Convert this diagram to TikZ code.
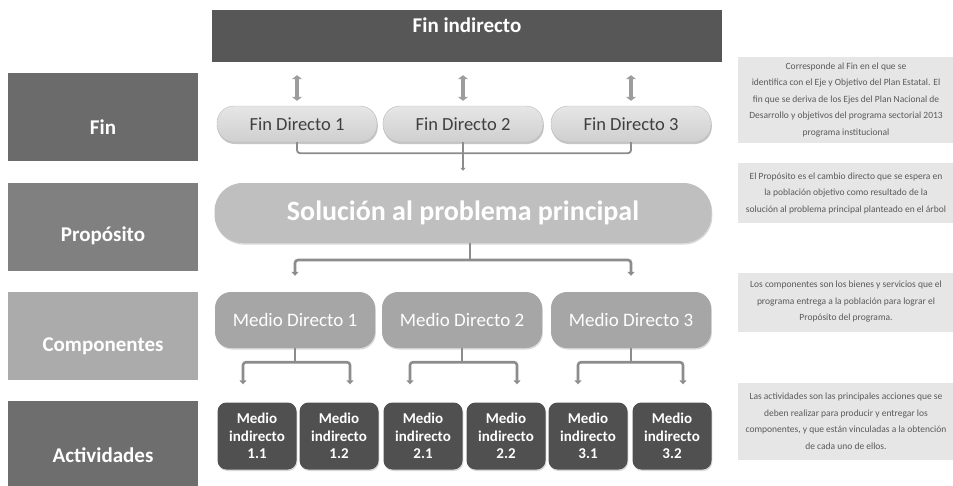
\documentclass[tikz,border=0pt]{standalone}
\usepackage{fontspec}
\setmainfont{Carlito}
\usetikzlibrary{arrows.meta,shadows}

\definecolor{barDark}{HTML}{575757}
\definecolor{lvlFin}{HTML}{6B6B6B}
\definecolor{lvlProp}{HTML}{808080}
\definecolor{lvlComp}{HTML}{ABABAB}
\definecolor{lvlAct}{HTML}{6E6E6E}
\definecolor{finTop}{HTML}{E6E6E6}
\definecolor{finBot}{HTML}{CFCFCF}
\definecolor{finText}{HTML}{3F3F3F}
\definecolor{solFill}{HTML}{BFBFBF}
\definecolor{medFill}{HTML}{A6A6A6}
\definecolor{indFill}{HTML}{505050}
\definecolor{noteFill}{HTML}{E6E6E6}
\definecolor{noteText}{HTML}{5A5A5A}
\definecolor{lineGray}{HTML}{8C8C8C}
\definecolor{arrowGray}{HTML}{9C9C9C}

\begin{document}
\begin{tikzpicture}[x=1pt,y=-1pt,
  lvlfont/.style={text=white,font=\fontsize{21}{23}\selectfont\bfseries},
  lvlbox/.style={rectangle,minimum width=190pt,minimum height=88pt,inner sep=0pt},
  finpill/.style={rectangle,rounded corners=17pt,minimum width=160pt,minimum height=36pt,inner sep=0pt,
    top color=finTop,bottom color=finBot,draw=finBot!90!black,line width=0.4pt,text=finText,
    font=\fontsize{18.5}{20}\selectfont,
    drop shadow={shadow xshift=0.8pt,shadow yshift=-2pt,opacity=0.45}},
  solpill/.style={rectangle,rounded corners=28pt,minimum width=497pt,minimum height=60pt,inner sep=0pt,
    fill=solFill,text=white,font=\fontsize{28}{30}\selectfont\bfseries,
    drop shadow={shadow xshift=0.8pt,shadow yshift=-1.5pt,opacity=0.3}},
  medbox/.style={rectangle,rounded corners=16pt,minimum width=160pt,minimum height=56pt,inner sep=0pt,
    fill=medFill,text=white,font=\fontsize{19}{21}\selectfont,
    drop shadow={shadow xshift=0.8pt,shadow yshift=-1.5pt,opacity=0.3}},
  indbox/.style={rectangle,rounded corners=9pt,minimum width=79pt,minimum height=67pt,inner sep=0pt,
    fill=indFill,text=white,align=center,font=\fontsize{15}{17.5}\selectfont\bfseries,
    drop shadow={shadow xshift=0.8pt,shadow yshift=-1.5pt,opacity=0.3}},
  notebox/.style={rectangle,minimum width=216pt,inner sep=0pt,fill=noteFill,text=noteText,
    align=center,font=\fontsize{9.5}{16.5}\selectfont},
  brk/.style={draw=lineGray,line width=2.6pt,rounded corners=3pt},
  thinbrk/.style={draw=lineGray,line width=1.8pt,rounded corners=3pt},
  tip/.tip={Triangle[width=7pt,length=4pt]},
  uparrow/.style={draw=arrowGray,line width=3.5pt,
    {Triangle[width=10pt,length=4pt]}-{Triangle[width=10pt,length=4pt]}}
]
\clip (0,0) rectangle (953,485);
\useasboundingbox (0,0) rectangle (953,485);

% level labels on the left
\node[lvlbox,fill=lvlFin,label={[lvlfont,yshift=-10pt]center:Fin}] (lfin) at (103,117) {};
\node[lvlbox,fill=lvlProp,label={[lvlfont,yshift=-9pt]center:Propósito}] (lprop) at (103,227) {};
\node[lvlbox,fill=lvlComp,label={[lvlfont,yshift=-10pt]center:Componentes}] (lcomp) at (103,336) {};
\node[lvlbox,fill=lvlAct,label={[lvlfont,yshift=-10pt]center:Actividades}] (lact) at (103,445) {};

% top goal bar
\node[rectangle,fill=barDark,minimum width=510pt,minimum height=52pt,inner sep=0pt,
  label={[lvlfont,yshift=11pt]center:Fin indirecto}] (findir) at (467,36) {};

% direct ends
\node[finpill] (fd1) at (297,124) {Fin Directo 1};
\node[finpill] (fd2) at (463,124) {Fin Directo 2};
\node[finpill] (fd3) at (631,124) {Fin Directo 3};

\draw[uparrow] ([yshift=5pt]fd1.north) -- ([yshift=-13pt]findir.south -| fd1.north);
\draw[uparrow] ([yshift=5pt]fd2.north) -- ([yshift=-13pt]findir.south -| fd2.north);
\draw[uparrow] ([yshift=5pt]fd3.north) -- ([yshift=-13pt]findir.south -| fd3.north);

% main problem solution
\node[solpill] (sol) at (463,213) {Solución al problema principal};

\draw[thinbrk] (fd1.south) -- ++(0,11) -| (fd3.south);
\draw[thinbrk,-{Triangle[width=5pt,length=3pt]}] (fd2.south) -- ([yshift=12pt]sol.north);

% direct means
\node[medbox] (md1) at (295,320) {Medio Directo 1};
\node[medbox] (md2) at (462,320) {Medio Directo 2};
\node[medbox] (md3) at (631,320) {Medio Directo 3};

\coordinate (sb) at (470,260);
\draw[brk] (sol.south -| sb) -- (sb);
\draw[brk,{tip}-{tip}] ([yshift=16pt]md1.north) |- (sb) -| ([yshift=16pt]md3.north);

% indirect means
\node[indbox] (mi1) at (257,436) {Medio\\indirecto\\1.1};
\node[indbox] (mi2) at (339,436) {Medio\\indirecto\\1.2};
\node[indbox] (mi3) at (423,436) {Medio\\indirecto\\2.1};
\node[indbox] (mi4) at (506,436) {Medio\\indirecto\\2.2};
\node[indbox] (mi5) at (588,436) {Medio\\indirecto\\3.1};
\node[indbox] (mi6) at (672,436) {Medio\\indirecto\\3.2};

\draw[brk] (md1.south) -- ++(0,14);
\draw[brk,{tip}-{tip}] ([xshift=-14pt,yshift=18pt]mi1.north) |- ([yshift=-14pt]md1.south) -| ([xshift=11pt,yshift=18pt]mi2.north);
\draw[brk] (md2.south) -- ++(0,14);
\draw[brk,{tip}-{tip}] ([xshift=-13pt,yshift=18pt]mi3.north) |- ([yshift=-14pt]md2.south) -| ([xshift=11pt,yshift=18pt]mi4.north);
\draw[brk] (md3.south) -- ++(0,14);
\draw[brk,{tip}-{tip}] ([xshift=-10pt,yshift=18pt]mi5.north) |- ([yshift=-14pt]md3.south) -| ([xshift=11pt,yshift=18pt]mi6.north);

% explanatory notes on the right
\node[notebox,minimum height=86pt] (n1) at (846,100) {Corresponde al Fin en el que se\\
  identifica con el Eje y Objetivo del Plan Estatal. El\\
  fin que se deriva de los Ejes del Plan Nacional de\\
  Desarrollo y objetivos del programa sectorial 2013\\
  programa institucional};
\node[notebox,minimum height=60pt] (n2) at (846,193) {El Propósito es el cambio directo que se espera en\\
  la población objetivo como resultado de la\\
  solución al problema principal planteado en el árbol};
\node[notebox,minimum height=59pt] (n3) at (846,302) {Los componentes son los bienes y servicios que el\\
  programa entrega a la población para lograr el\\
  Propósito del programa.};
\node[notebox,minimum height=77pt] (n4) at (846,421) {Las actividades son las principales acciones que se\\
  deben realizar para producir y entregar los\\
  componentes, y que están vinculadas a la obtención\\
  de cada uno de ellos.};
\end{tikzpicture}
\end{document}
